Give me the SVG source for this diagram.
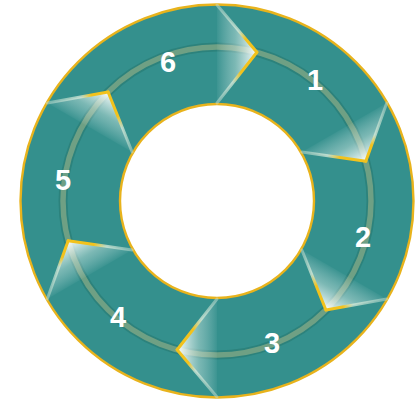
<svg xmlns="http://www.w3.org/2000/svg" width="420" height="400" viewBox="0 0 420 400">
  <style>
    .ring { fill: #34908D; stroke: #E8B31C; stroke-width: 2.4; fill-rule: evenodd; }
    .track-base { fill: none; stroke: #2C827C; stroke-width: 9; }
    .track { fill: none; stroke: #6FA084; stroke-width: 5.5; }
    .glow { stroke: none; }
    .label { font-family: "Liberation Sans", Arial, sans-serif; font-weight: bold; font-size: 29px; fill: #FFFFFF; text-anchor: middle; }
  </style>
  <defs>
    <linearGradient id="glowGrad" gradientUnits="userSpaceOnUse" x1="0" y1="-150" x2="40" y2="-150">
      <stop offset="0" stop-color="#FFFFFF" stop-opacity="0.04"/>
      <stop offset="0.45" stop-color="#DDEFEA" stop-opacity="0.42"/>
      <stop offset="1" stop-color="#FFFFFF" stop-opacity="0.97"/>
    </linearGradient>
    <linearGradient id="edgeOut" gradientUnits="userSpaceOnUse" x1="39.9" y1="-148.8" x2="0" y2="-196">
      <stop offset="0" stop-color="#F2C21C"/>
      <stop offset="0.28" stop-color="#F2C21C"/>
      <stop offset="0.45" stop-color="#D8EBD9" stop-opacity="0.75"/>
      <stop offset="1" stop-color="#C9E2D4" stop-opacity="0.45"/>
    </linearGradient>
    <linearGradient id="edgeIn" gradientUnits="userSpaceOnUse" x1="39.9" y1="-148.8" x2="0" y2="-98">
      <stop offset="0" stop-color="#F2C21C"/>
      <stop offset="0.4" stop-color="#F2C21C"/>
      <stop offset="0.6" stop-color="#D8EBD9" stop-opacity="0.75"/>
      <stop offset="1" stop-color="#C9E2D4" stop-opacity="0.45"/>
    </linearGradient>
    <g id="chevron">
      <path class="glow" d="M0,-196 L39.9,-148.8 L0,-98 Z" fill="url(#glowGrad)"/>
      <line x1="39.9" y1="-148.8" x2="0" y2="-196" stroke="url(#edgeOut)" stroke-width="3" stroke-linecap="round"/>
      <line x1="39.9" y1="-148.8" x2="0" y2="-98" stroke="url(#edgeIn)" stroke-width="3" stroke-linecap="round"/>
    </g>
  </defs>

  <g id="ring">
    <path class="ring" d="M413.5,201 A196.5,196.5 0 1 1 20.5,201 A196.5,196.5 0 1 1 413.5,201 Z M314,201 A97,97 0 1 0 120,201 A97,97 0 1 0 314,201 Z"/>
    <circle class="track-base" cx="217" cy="201" r="154"/>
    <circle class="track" cx="217" cy="201" r="154"/>
  </g>

  <g id="connectors" transform="translate(217,201)">
    <use href="#chevron" transform="rotate(0)"/>
    <use href="#chevron" transform="rotate(60)"/>
    <use href="#chevron" transform="rotate(120)"/>
    <use href="#chevron" transform="rotate(180)"/>
    <use href="#chevron" transform="rotate(240)"/>
    <use href="#chevron" transform="rotate(300)"/>
  </g>

  <g id="node1"><text class="label" x="315" y="90">1</text></g>
  <g id="node2"><text class="label" x="363" y="247">2</text></g>
  <g id="node3"><text class="label" x="272" y="353">3</text></g>
  <g id="node4"><text class="label" x="118" y="327">4</text></g>
  <g id="node5"><text class="label" x="63" y="190">5</text></g>
  <g id="node6"><text class="label" x="168" y="72">6</text></g>
</svg>
